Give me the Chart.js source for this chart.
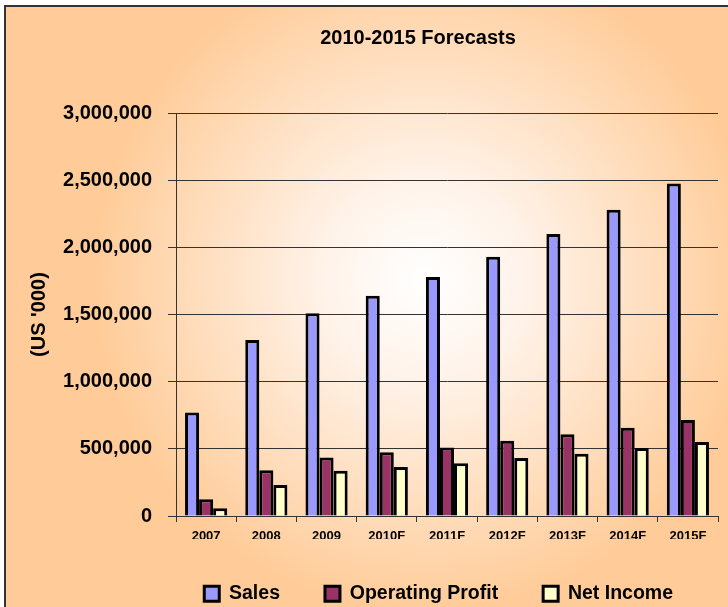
<!DOCTYPE html>
<html>
<head>
<meta charset="utf-8">
<script src="https://cdn.jsdelivr.net/npm/chart.js@4.4.1/dist/chart.umd.min.js"></script>
<style>
  html, body { margin: 0; padding: 0; background: #ffffff; }
  #wrap { width: 728px; height: 607px; }
</style>
</head>
<body>
<div id="wrap"><canvas id="forecastChart" width="728" height="607"></canvas></div>
<script>
// datos (US '000)
const years = ['2007', '2008', '2009', '2010F', '2011F', '2012F', '2013F', '2014F', '2015F'];
const sales = [770000, 1310000, 1510000, 1640000, 1780000, 1930000, 2100000, 2280000, 2475000];
const operatingProfit = [125000, 340000, 435000, 475000, 510000, 560000, 608000, 657000, 715000];
const netIncome = [58000, 230000, 337000, 365000, 392000, 432000, 464000, 506000, 551000];
const yTicks = [0, 500000, 1000000, 1500000, 2000000, 2500000, 3000000];

const FONT = "'Liberation Sans', Arial, sans-serif";

// fondo naranja con degradado y marco
const backgroundPlugin = {
    id: 'bgFrame',
    beforeDraw(chart) {
        const c = chart.ctx;
        c.save();
        c.fillStyle = '#ffffff';
        c.fillRect(0, 0, chart.width, chart.height);
        const g = c.createRadialGradient(425, 280, 0, 425, 280, 330);
        g.addColorStop(0, '#ffffff');
        g.addColorStop(0.3, '#fff3ea');
        g.addColorStop(1, '#ffcc99');
        c.fillStyle = g;
        c.fillRect(5, 6, chart.width - 5, chart.height - 6);
        c.strokeStyle = '#333333';
        c.lineWidth = 2;
        c.beginPath();
        c.moveTo(5, chart.height);
        c.lineTo(5, 6);
        c.lineTo(chart.width, 6);
        c.stroke();
        c.restore();
    }
};

// ajustes de posicion del titulo y la leyenda
const layoutPlugin = {
    id: 'layoutTweaks',
    beforeInit(chart) {
        const fit = chart.legend.fit;
        chart.legend.fit = function () {
            fit.call(this);
            this.height = 68;
        };
    },
    afterLayout(chart) {
        if (chart.titleBlock) chart.titleBlock.left = 118;
    }
};

const ctx = document.getElementById('forecastChart').getContext('2d');
const chart = new Chart(ctx, {
    type: 'bar',
    data: {
        labels: years,
        datasets: [
            { label: 'Sales', data: sales, backgroundColor: '#9999ff', borderColor: '#000000', borderWidth: 3 },
            { label: 'Operating Profit', data: operatingProfit, backgroundColor: '#993366', borderColor: '#000000', borderWidth: 3 },
            { label: 'Net Income', data: netIncome, backgroundColor: '#ffffcc', borderColor: '#000000', borderWidth: 3 }
        ]
    },
    options: {
        responsive: false,
        animation: false,
        layout: { padding: { left: 0, right: 10, top: 0, bottom: 0 } },
        datasets: { bar: { categoryPercentage: 0.7, barPercentage: 1.0 } },
        plugins: {
            title: {
                display: true,
                text: '2010-2015 Forecasts',
                color: '#000000',
                font: { family: FONT, size: 20, weight: 'bold' },
                padding: { top: 26, bottom: 63 }
            },
            legend: {
                display: true,
                position: 'bottom',
                align: 'end',
                labels: {
                    color: '#000000',
                    font: { family: FONT, size: 19.5, weight: 'bold' },
                    boxWidth: 15,
                    boxHeight: 15,
                    padding: 45
                }
            },
            tooltip: { enabled: false }
        },
        scales: {
            x: {
                afterFit(scale) { scale.height = 23; },
                grid: { offset: true, drawOnChartArea: false, drawTicks: true, tickLength: 6, color: '#333333' },
                border: { display: true, color: '#333333', width: 1 },
                ticks: { color: '#000000', font: { family: FONT, size: 13, weight: 'bold' }, padding: 7, maxRotation: 0 }
            },
            y: {
                min: 0,
                max: 3000000,
                afterFit(scale) { scale.width = 176; },
                afterBuildTicks(scale) { scale.ticks = yTicks.map(v => ({ value: v })); },
                grid: { color: '#333333', lineWidth: 1, drawTicks: true, tickLength: 8 },
                border: { display: true, color: '#333333', width: 1 },
                ticks: {
                    color: '#000000',
                    font: { family: FONT, size: 20, weight: 'bold' },
                    padding: 16,
                    callback: v => v.toLocaleString('en-US')
                },
                title: {
                    display: true,
                    text: "(US '000)",
                    color: '#000000',
                    font: { family: FONT, size: 20, weight: 'bold' },
                    padding: { top: 27, bottom: 0 }
                }
            }
        }
    },
    plugins: [backgroundPlugin, layoutPlugin]
});
</script>
</body>
</html>
